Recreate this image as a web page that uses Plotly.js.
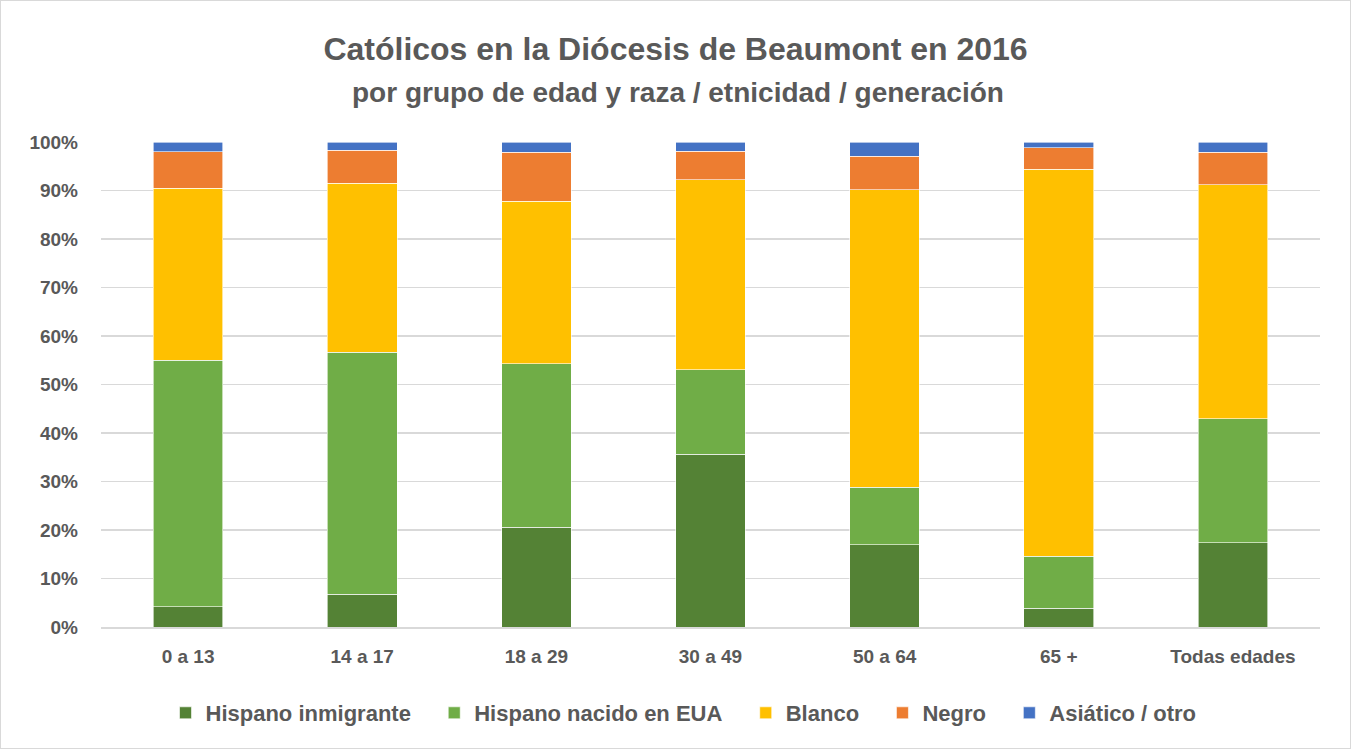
<!DOCTYPE html>
<html>
<head>
<meta charset="utf-8">
<script src="https://cdn.plot.ly/plotly-3.0.1.min.js"></script>
<style>
html,body{margin:0;padding:0;background:#fff;}
#chart{width:1349px;height:747px;border:1px solid #d9d9d9;}
</style>
</head>
<body>
<div id="chart"></div>
<script>
const categories = ["0 a 13","14 a 17","18 a 29","30 a 49","50 a 64","65 +","Todas edades"];
const hispanoInmigrante = [4.2, 6.8, 20.6, 35.6, 17.0, 3.9, 17.4];
const hispanoNacido     = [50.8, 49.9, 33.7, 17.4, 11.8, 10.7, 25.5];
const blanco            = [35.5, 34.8, 33.5, 39.2, 61.4, 79.8, 48.3];
const negro             = [7.5, 6.85, 10.1, 5.9, 6.9, 4.4, 6.7];
const asiatico          = [2.0, 1.65, 2.1, 1.9, 2.9, 1.2, 2.1];
const seriesNames = ["Hispano inmigrante","Hispano nacido en EUA","Blanco","Negro","Asiático / otro"];
const colors = ["#548235","#70ad47","#ffc000","#ed7d31","#4472c4"];
const tickVals = [0,10,20,30,40,50,60,70,80,90,100];
const tickText = tickVals.map(v=>"<b>"+v+"%</b>");

const font = "Liberation Sans, Arial, sans-serif";
const allSeries = [hispanoInmigrante, hispanoNacido, blanco, negro, asiatico];
const traces = allSeries.map((vals,i)=>({
  type:"bar", x:categories, y:vals,
  name:"<b>"+seriesNames[i]+"</b>" + (i<4 ? "\u00a0\u00a0\u00a0" : ""),
  marker:{color:colors[i], line:{color:"#ffffff", width:0.6}},
  hovertemplate:"%{x}: %{y}%<extra>"+seriesNames[i]+"</extra>"
}));

const layout = {
  width:1349, height:747,
  barmode:"stack", bargap:0.6,
  paper_bgcolor:"#fff", plot_bgcolor:"#fff",
  margin:{l:100, r:30, t:141, b:121},
  title:{
    text:"<b>Católicos en la Diócesis de Beaumont en 2016</b>",
    x:0.5, xanchor:"center", xref:"container", y:1-48/747, yanchor:"middle", yref:"container",
    font:{family:font, size:32, color:"#595959"}
  },
  annotations:[{
    text:"<b>por grupo de edad y raza / etnicidad / generación</b>",
    xref:"paper", yref:"paper", x:(677-100)/1220, xanchor:"center",
    y:1+ (141-92)/485, yanchor:"middle", showarrow:false,
    font:{family:font, size:28, color:"#595959"}
  }],
  xaxis:{
    tickvals:categories, ticktext:categories.map(c=>"<b>"+c+"</b>"),
    tickfont:{family:font, size:19, color:"#595959"},
    showline:true, linecolor:"#d9d9d9", linewidth:1.5, ticks:"",
    tickangle:0, ticklabelstandoff:12
  },
  yaxis:{
    range:[0,100], tickvals:tickVals, ticktext:tickText,
    tickfont:{family:font, size:19, color:"#595959"},
    gridcolor:"#d9d9d9", gridwidth:1.5, zeroline:false, ticks:"", showline:false,
    ticklabelstandoff:22
  },
  legend:{
    orientation:"h", x:(683-100)/1220, xanchor:"center", y:-(713-627)/485, yanchor:"middle",
    font:{family:font, size:22, color:"#595959"},
    traceorder:"normal", itemwidth:20
  },
  showlegend:true
};
Plotly.newPlot("chart", traces, layout, {displayModeBar:false, staticPlot:true});
</script>
</body>
</html>
